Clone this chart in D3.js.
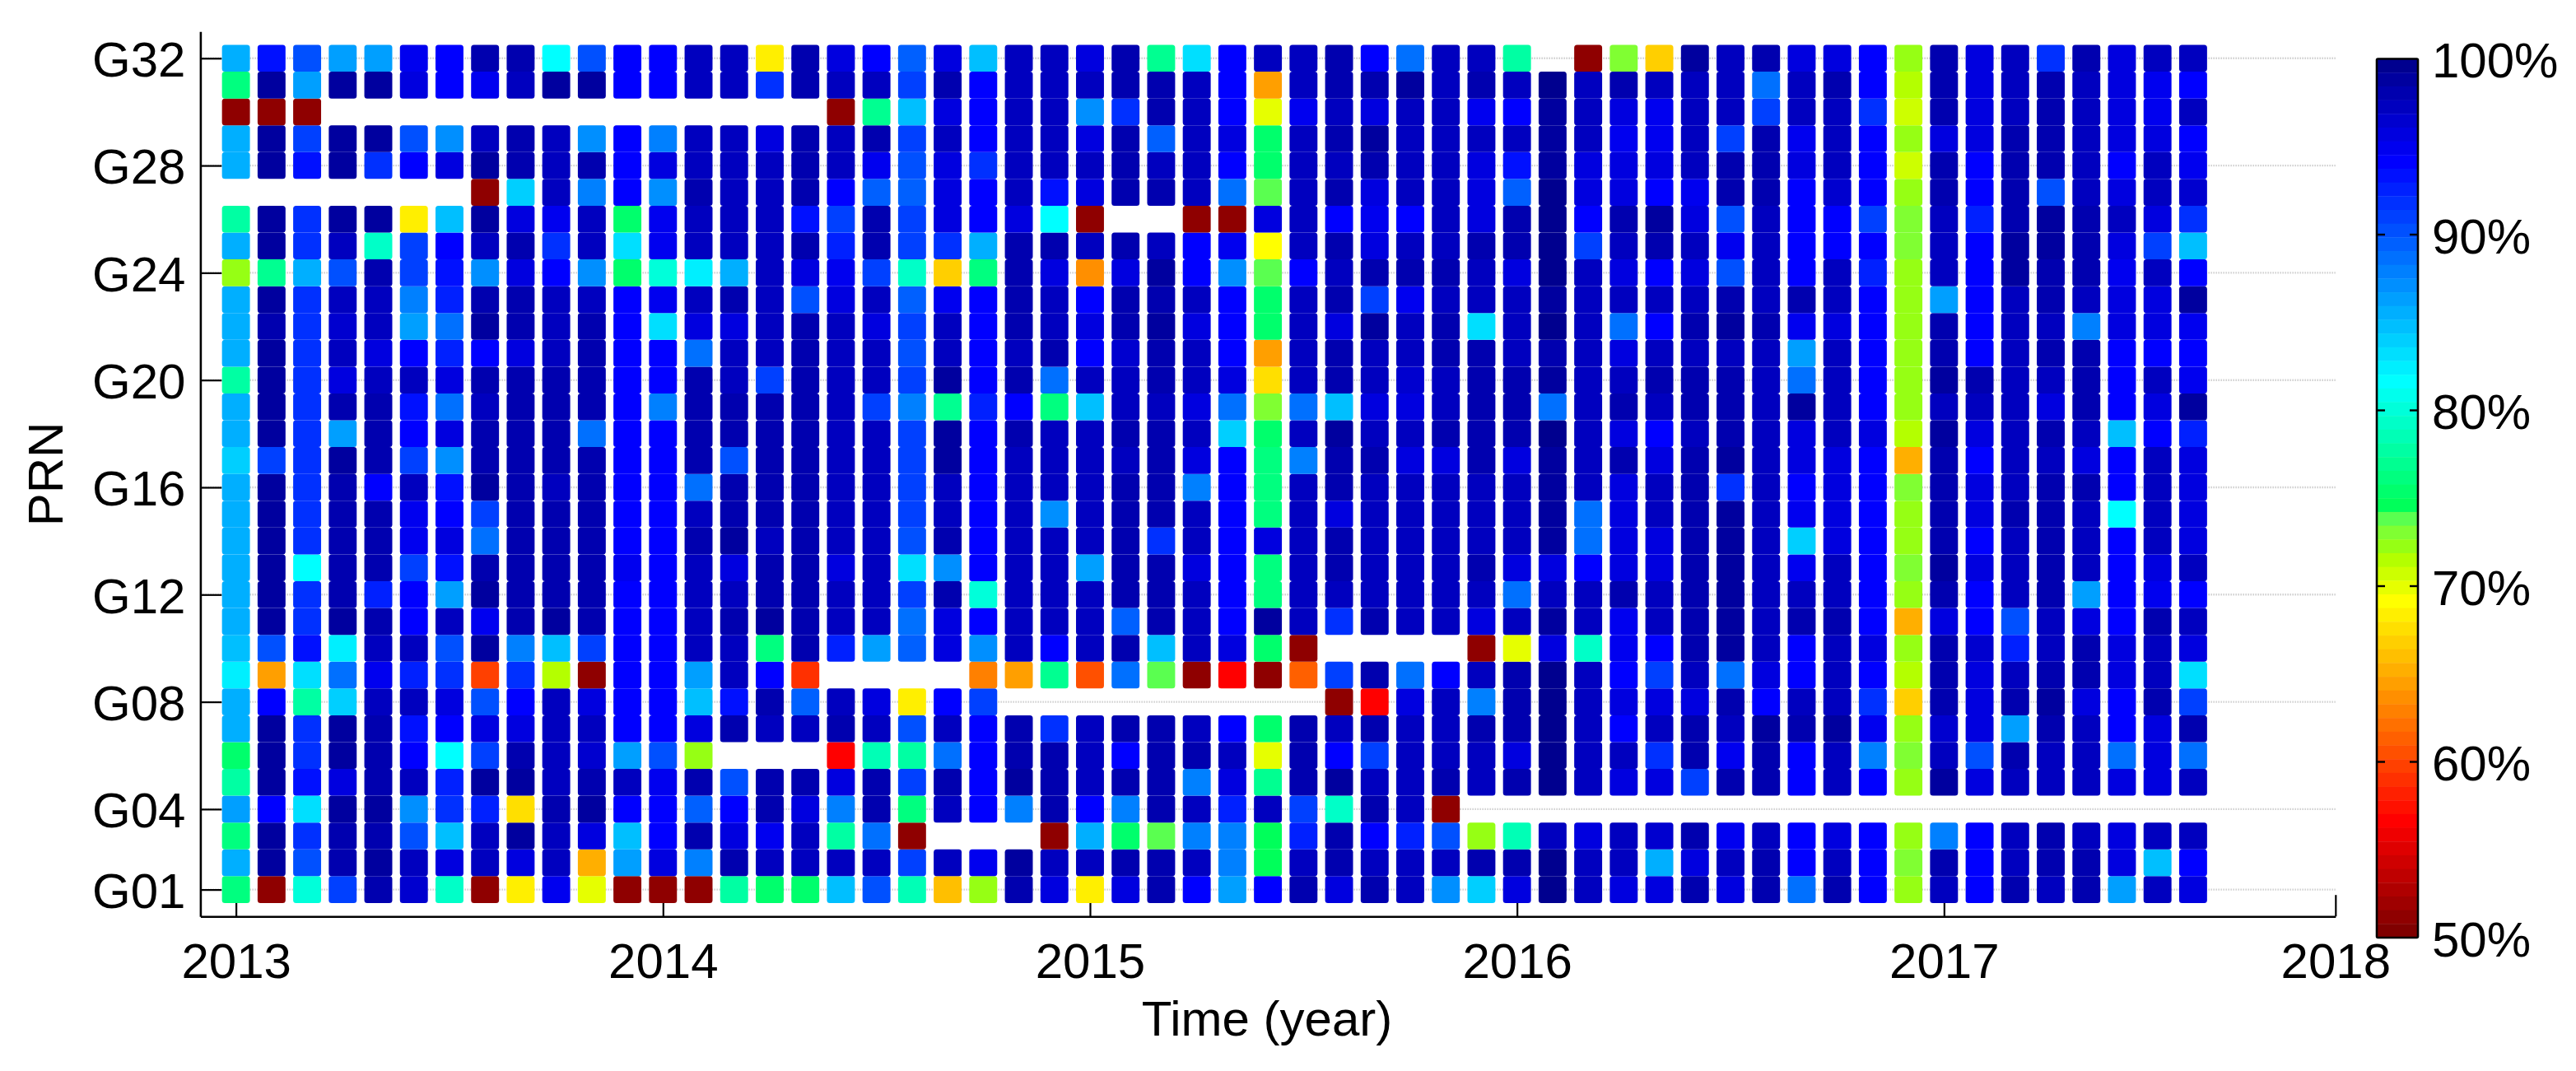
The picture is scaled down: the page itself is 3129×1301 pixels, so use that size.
<!DOCTYPE html>
<html>
<head>
<meta charset="utf-8">
<script src="https://cdn.jsdelivr.net/npm/d3@7/dist/d3.min.js"></script>
<style>
html,body{margin:0;padding:0;background:#fff;overflow:hidden}
text{font-family:"Liberation Sans",Arial,sans-serif;font-size:60px;fill:#000}
</style>
</head>
<body>
<svg id="chart" width="3129" height="1301"></svg>
<script>
const g32=[85.6,93,90,86,86,95,94,98,98,81.7,90,94,94,97,97,68.5,98,96,94,89.5,96,85,97,97,96,98,77,83.5,94,97,97,98,94,89,97,97,78,null,51,73,66.5,99,97,98,96,96,94,72,98,96,97,92,98,95.5,97,97];
const g31=[76.5,99,86,99,99,96,94.5,95,97,99,99,94,94,97,97,92,98,97,97.5,91,98,94,97,97,97,98,98,97,94,64.5,97,98,98,99,97,98,97,100,97,98,97,97,97,89,97,98,94,71.5,98,96,97,98,97,96,95,94];
const g30=[51,51,51,null,null,null,null,null,null,null,null,null,null,null,null,null,null,51,77,85,96,94,97,97,87,92,98,97,94,70,95,97,96,97,97,95,94,99,97,96,95,97,97,91,97,97,91.5,70.5,98,96,97,98,97,96,95,97];
const g29=[85.6,99,91,99,99,90,87,97,98,97,87,94.5,88,97,97,96,98,97,98,91,97,94,97,97,96,98,89.5,97,96,75,97,98,98.5,97.5,97,97,97,99,97,95,95,97,91,98,95,97,94,72,96,96,98,98,97,96,96,94];
const g28=[85.6,99,93,99,92,94,96,99,98,97,98,94,96,97,97,97,98,97,95,90,96,92,97,97,97,98,97,97,94,75,97,97,98,97,97,96,93,99,95.5,95.5,96,97,98,98,96,97,94,70.5,98,94.5,98,98,97,94.5,97,95];
const g27=[null,null,null,null,null,null,null,51,84,97,88,94,87,98,97,97,98,94,89.5,89.5,96,94,97,93,96,98,98,97,89,73.5,97,98,96,97,97,96,89.5,100,96,96,94,95,98,98,94.5,96.5,94,72,98,94.5,98,90,97,96,97,96.5];
const g26=[78,99,92,99,99,68.5,85,99,96,95,97,75,95,97,97,97,93,91,98,91,96,94.5,96,81.7,51,null,null,51,51,96,97,94,95,94.5,97,96,98,100,94.5,98,99,96,90,97,94,94.5,91,73,97,92.5,98,99,98,97,95.5,92];
const g25=[85.6,99,92,97,79.5,91,94,97,98,91.5,97,83.5,95,97,97,97,98,92.5,98,91,92,85.6,98,98,97,98,97,94,95,69.3,97,98,95.5,97,97,98,98,100,91,97.5,98,97,95,97,94,94.5,94,73,97,94.5,99,99,98,96,91,85];
const g24=[72,77,85.6,90.5,98,91,93,87,96,94,87,75,80,82.5,85.6,97,96,95,91,79.5,66.5,76,98,96,63.8,96,99,94,87,73.5,94,97,98,98,98,97,96,100,97,95.5,94.5,96,90,97,94,97,92.5,72,97,94.5,99,98,98,95,97,94];
const g23=[85.6,99,92,97,97.5,88,92.5,98,98,97,97,94,95,97,98,97,90,96,97.5,89.5,95,94,98,97,94.5,98,98,97.5,94,75,97,98,91,95,97,97,97,99,97,97,97,97,98,97,98,97,94,72,86,94,97,98,97,96,96,99];
const g22=[85.6,98,92,96.5,97,86,89,99,98,97,98,94,83.5,95.5,95.5,97,98,97,96,91,97,94.5,98,97,96,98,99,96,94,75,97,95.5,98.5,97,98,83.5,97,100,97,89,94.5,98,99,98,95,95.5,94,72,98,94,97,97,88,96,96,95];
const g21=[85.6,99,92,97,96,94.5,92.5,94,96,97,98,94,94.5,89,97,97,98,97,97,90,97,94,97,98,94.5,96.5,98,97,94,64.5,97,98,97,97,98,98,97,98,97,95.5,97,97,97,97,86,97,94,72,98,94,97,98,98,94.5,94,94.5];
const g20=[78,99,92,95.5,97,97,96,98,98,98,98,94,94.5,98,97,91,98,97,97,91,99,94.5,98,89,97,97,98,97,96,67.7,97,98,97,96.5,97,98,98,99,97,97,98,98,98,97,89,97,94,72,99,98,97,97,98,94,97,95];
const g19=[85.6,99,92,98,98,93,89,97,98,98,98,94,88,98,98,98,98,97,91,88,77,92.5,94,76.5,85,97,97,95.5,89,73,89,85,96,96,97,98,98,89,97,98,97,98,98,97,99,97,94,72,97,97,97,95.5,98,94,96,99];
const g18=[85.6,99,92,86,98,94,96,98,98,98,88.5,94,94.5,98,98,98,98,97,97,91,99,94,98,97,97,98,98,97,84,75,97,99,97,97,98,98,98,100,97,95.5,94.5,97,98,97,95.5,97,96,71.5,99,96,97,98,97,85,94,92.5];
const g17=[84,91,92,99,98,91,87,98,98,98,98,94,94,98,90,98,98,97,97,91,99,94,97,97,97,97,98,96,94,76.5,87.5,98,98,96,96,98,95.5,99,97,98,96,98,99,97,96,96,94,65.5,98,94,97,97,96,94.5,97,96];
const g16=[85.6,99,92,98,94,97,93,99,98,97,98,94,94,89,98,98,98,97,97,91,97,94,97,97,97,98,98,87.5,94,76,97,98,97,97,97,97,97,99,97,95.5,97,98,91.5,97,94,96,94,73,98,96,97,98,98,94,97,96];
const g15=[85.6,99,92,98,98,95,94,91,98,98,98,94,94,97,98,98,98,97,97,91,97,94,97,87,97,98,98,97,94,76,97,95.5,97,97,97,97,97,99,89,96,97,98,99,97,95,96,94,72,98,96,98,98,97,81.7,97,96];
const g14=[85.6,99,92,98,98,95,96,88.5,98,98,98,94,94,98,98.5,97,98,97,97,90.5,98,94,97,97,97,98,92,97,94,96,97,98,97,97,97,97,97,99,88.5,96,96,98,99,97,84,96,94,72,98,94.5,97,98,97,94,97,96];
const g13=[85.6,99,81.7,98,98,91,93,98,98,98,98,95,94.5,97,96,98,98,96,97,83.5,87,94,97,97,86,98,98,96,94,76,97,98,97,97,97,98,96,96,94,96,96,98,99,97,95,97,94,73,99,96,97,98,97,94,96,97.5];
const g12=[85.6,99,92,98,92.5,94,86,99,98,98,98,94.5,94,97,97,98,98,97,97,91,98,80,97,97,97,98,98,97,94,76,97,97,97,97,97,97,89,97,97,98,97,98,99,97,97,97,94,72,98,94,97,98,86,94,95,94];
const g11=[85.6,99,92,99,98,94,97,95,98,99,98,94,94,97,98,99,98,97,97,89,96,94,97,97,97,89.5,98,97,94,98.5,97,92,98,97,97,96,97,99,97,95,97,98,99,97,98,98,94,65.5,96,94.5,90.5,97,96,94,98,97.5];
const g10=[85,90,93,82.5,97,97,90,99,87.5,85,91,94,94,97,97,76,98,92.5,86,89.5,96,87,97,94.5,97,98,85,97,96,75.5,51,null,null,null,null,51,70,96,79,95,94.5,98,99,97,94.5,97,96,72,98,96.5,92.5,97,98,96,97,95.5];
const g09=[82.5,64.5,83.5,88.5,95,92.5,92,60,92,71.5,51,94,94,86,97,94,59.2,null,null,null,null,63,64.5,77,60.5,88.5,73.5,51,56.5,51,61.5,91,98,89,94.5,97,98,100,97,94,91,97,89,96,94.5,97,94.5,71.5,98,96,97,98,98,96,97,83.5];
const g08=[85.6,94,78,84,97,97,95.5,90.5,94,97,96,94,94,85,93,98,89.5,97,96,68.5,94.5,91,null,null,null,null,null,null,null,null,null,51,56.5,96,97,87.5,98,100,97,96,96,95.5,98,94,97,97,92,67,98,96,98,99,95.5,94.5,98,91];
const g07=[85.6,99,92,99,98,93,94,96,96,97,97,94,94,96,98,97,97,98,97.5,90,97,94.5,98,92,97,98,98,97,94.5,75,98,97,98,97,97,98,98,100,97,94,97,98,97,99,98,98.5,95,72,96.5,96,86,98,97,94.5,96,98];
const g06=[75.5,99,92,99,98,94.5,81.7,91,98,97,96.5,86,90,72,null,null,null,56.5,78.5,78,89,94,98,98,97,94.5,98,98,97,70,98,94.5,91,97,97,97,96,100,97,97,92,98,95,98,94.5,97,88,73,97,90.5,98,97,97,88.5,96,89];
const g05=[78,99,93,96,98,97,92.5,99,98.5,97,98,97,95,98,90,98,98,96,98,91,98,94.5,99,98,97,98,98,88,96,77,98,99,97,97,98,97,98,100,97,96,96,91,98,98,94.5,97,94.5,72,99,96,97,97,97,96,95.5,97];
const g04=[86,94.5,83.5,99,99,87,92,92.5,67.7,98,99,94.5,94,89.5,94,98,96,88,98,76.5,97,94.5,88,98,94.5,87.5,98,97,92.5,97,91,79.5,98,97,51,null,null,null,null,null,null,null,null,null,null,null,null,null,null,null,null,null,null,null,null,null];
const g03=[76.5,99,91.5,98,98,90,85,97,99,97,96,85,94,98,96,95,97,78,88.5,51,null,null,null,51,85.6,75,73.5,87.5,88,74.5,92.5,98,94,92.5,90,72,78.5,97,96,97,96.5,98,95,97,94.5,96,94.5,72,87.5,94.5,97,98,97,96,97,97];
const g02=[85.6,99,90.5,98,99,97,95.5,97,96,97,65.5,86,95.5,87.5,98,97,97,97,97,91,97,95,99,97,97,98,98,97,88,74.5,97,98,97,97,97,98,98,100,97,97,85.6,96,97,98,94.5,97,94,73,98,94,97,98,98,96,85,94];
const g01=[76,51,80,91,98,96.5,79.5,51,68.5,95,70,51,51,51,78,75,75,85,90.5,78.5,66,72,98,96,68.5,95.5,98,94.5,86.5,94.5,98,95.5,98,97,87,84,95.5,100,97,96,96,98,96,98,88.5,98,94.5,72,97,94.5,98,97,98,86.5,97,96];
const prnRows=[g01,g02,g03,g04,g05,g06,g07,g08,g09,g10,g11,g12,g13,g14,g15,g16,g17,g18,g19,g20,g21,g22,g23,g24,g25,g26,g27,g28,g29,g30,g31,g32];

const yTickValues=[1,4,8,12,16,20,24,28,32];
const yTickLabels=["G01","G04","G08","G12","G16","G20","G24","G28","G32"];
const xTickValues=[0,12,24,36,48,59];
const xTickLabels=["2013","2014","2015","2016","2017","2018"];
const cbTickValues=[50,60,70,80,90,100];
const cbTickLabels=["50%","60%","70%","80%","90%","100%"];
// 64-level colormap, top of the colourbar (100%) first
const cmap=["#00008f","#00009f","#0000af","#0000bf","#0000cf","#0000df","#0000ef","#0000ff",
"#0010ff","#0020ff","#0030ff","#0040ff","#0050ff","#0060ff","#0070ff","#0080ff",
"#008fff","#009fff","#00afff","#00bfff","#00cfff","#00dfff","#00efff","#00ffff",
"#00ffed","#00ffda","#00ffc8","#00ffb6","#00ffa3","#00ff91","#00ff7f","#00ff6c",
"#00ff5a","#5aff50","#80ff32","#96ff14","#b4ff00","#cdff00","#e6ff00","#ffff00",
"#ffef00","#ffdf00","#ffcf00","#ffbf00","#ffaf00","#ff9f00","#ff8f00","#ff8000",
"#ff7000","#ff6000","#ff5000","#ff4000","#ff3000","#ff2000","#ff1000","#ff0000",
"#ef0000","#df0000","#cf0000","#bf0000","#af0000","#9f0000","#8f0000","#800000"];

const svg=d3.select("#chart");
const x=d3.scaleLinear().domain([-1,59]).range([243.4,2836.8]);
const y=d3.scaleLinear().domain([0,33]).range([1113.2,38.2]);
const colour=d3.scaleQuantize().domain([50,100]).range(cmap.slice().reverse());
const stepX=x(1)-x(0), stepY=y(0)-y(1), cellW=stepX*0.785;

// grid
svg.append("g").selectAll("line").data(yTickValues).join("line")
  .attr("x1",x(-1)).attr("x2",x(59)).attr("y1",d=>y(d)).attr("y2",d=>y(d))
  .attr("stroke","#cfcfcf").attr("stroke-width",2.4).attr("stroke-dasharray","1.5 1.5");

// axes (ticks point inward, below the cells)
const xAxis=d3.axisBottom(x).tickValues(xTickValues)
  .tickFormat((d,i)=>xTickLabels[i]).tickSizeInner(-26).tickSizeOuter(0).tickPadding(32);
const yAxis=d3.axisLeft(y).tickValues(yTickValues)
  .tickFormat((d,i)=>yTickLabels[i]).tickSizeInner(-26).tickSizeOuter(0).tickPadding(18);
const gx=svg.append("g").attr("transform",`translate(0,${y(0)})`).call(xAxis);
const gy=svg.append("g").attr("transform",`translate(${x(-1)},0)`).call(yAxis);
[gx,gy].forEach(g=>{
  g.selectAll(".domain").attr("stroke","#000").attr("stroke-width",2.6);
  g.selectAll(".tick line").attr("stroke","#000").attr("stroke-width",2.2);
  g.selectAll("text").style("font-size","60px").style("font-family",'"Liberation Sans",Arial,sans-serif').attr("fill","#000");
});
gy.selectAll("text").attr("dy","0.365em");

// cells
const cells=[];
prnRows.forEach((row,r)=>row.forEach((v,c)=>{ if(v!==null) cells.push({prn:r+1,col:c,v}); }));
svg.append("g").selectAll("rect").data(cells).join("rect")
  .attr("x",d=>x(d.col)-cellW/2).attr("y",d=>y(d.prn)-stepY/2)
  .attr("width",cellW).attr("height",stepY).attr("rx",3.5).attr("ry",3.5)
  .attr("fill",d=>colour(d.v));

// axis titles
svg.append("text").attr("x",1539).attr("y",1258).attr("text-anchor","middle").text("Time (year)");
svg.append("text").attr("transform","translate(76,576) rotate(-90)").attr("text-anchor","middle").text("PRN");

// colourbar
const cb=d3.scaleLinear().domain([50,100]).range([1139,71.5]);
const cbX0=2887, cbX1=2937;
const bands=cmap.map((c,i)=>({c,hi:100-i*50/64,lo:100-(i+1)*50/64}));
const gc=svg.append("g");
gc.selectAll("rect").data(bands).join("rect")
  .attr("x",cbX0).attr("width",cbX1-cbX0)
  .attr("y",d=>cb(d.hi)).attr("height",d=>cb(d.lo)-cb(d.hi)+0.4).attr("fill",d=>d.c);
gc.append("rect").attr("x",cbX0).attr("y",cb(100)).attr("width",cbX1-cbX0).attr("height",cb(50)-cb(100))
  .attr("fill","none").attr("stroke","#000").attr("stroke-width",2.6).attr("rx",1.5);
const midTicks=cbTickValues.filter(d=>d>50&&d<100);
gc.selectAll("line.l").data(midTicks).join("line").attr("class","l")
  .attr("x1",cbX0).attr("x2",cbX0+10).attr("y1",d=>cb(d)).attr("y2",d=>cb(d)).attr("stroke","#000").attr("stroke-width",2.4);
gc.selectAll("line.r").data(midTicks).join("line").attr("class","r")
  .attr("x1",cbX1-10).attr("x2",cbX1).attr("y1",d=>cb(d)).attr("y2",d=>cb(d)).attr("stroke","#000").attr("stroke-width",2.4);
gc.selectAll("text").data(cbTickValues).join("text")
  .attr("x",2954).attr("y",d=>cb(d)+22.5).text((d,i)=>cbTickLabels[i]);
</script>
</body>
</html>
